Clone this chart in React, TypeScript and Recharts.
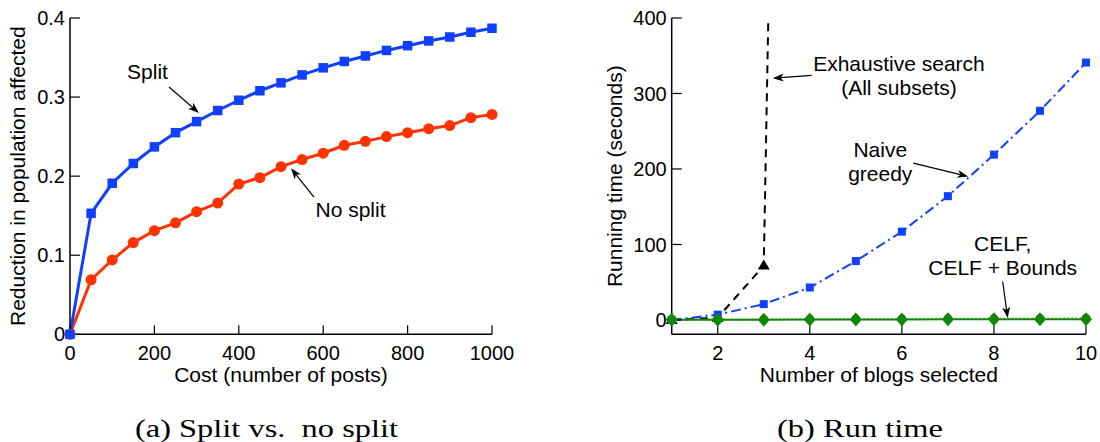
import React from 'react';
import { LineChart, Line, XAxis, YAxis, ReferenceLine } from 'recharts';

// ---------- (a) Split vs. no split ----------
const costs = [0, 50, 100, 150, 200, 250, 300, 350, 400, 450, 500, 550, 600, 650, 700, 750, 800, 850, 900, 950, 1000];
const splitReduction = [0, 0.153, 0.191, 0.216, 0.237, 0.255, 0.269, 0.283, 0.296, 0.308, 0.318, 0.328, 0.337, 0.345, 0.352, 0.359, 0.365, 0.371, 0.376, 0.382, 0.387];
const noSplitReduction = [0, 0.069, 0.094, 0.116, 0.131, 0.141, 0.155, 0.166, 0.19, 0.198, 0.212, 0.221, 0.229, 0.239, 0.244, 0.25, 0.255, 0.26, 0.264, 0.274, 0.278];
const costTicks = [0, 200, 400, 600, 800, 1000];
const reductionTicks = [0, 0.1, 0.2, 0.3, 0.4];

// ---------- (b) Run time ----------
const blogsSelected = [1, 2, 3, 4, 5, 6, 7, 8, 9, 10];
const exhaustiveTime = [0, 3, 72, 3400, null, null, null, null, null, null];
const naiveGreedyTime = [0, 7, 21, 43, 78, 117, 164, 219, 277, 341];
const celfTime = [0.3, 0.6, 0.8, 1.0, 1.2, 1.4, 1.6, 1.8, 2.0, 2.2];
const celfBoundsTime = [0.2, 0.3, 0.4, 0.5, 0.6, 0.7, 0.8, 0.9, 1.0, 1.1];
const blogTicks = [2, 4, 6, 8, 10];
const timeTicks = [0, 100, 200, 300, 400];

const leftData = costs.map((c, i) => ({ cost: c, split: splitReduction[i], noSplit: noSplitReduction[i] }));
const rightData = blogsSelected.map((b, i) => ({
  blogs: b,
  exhaustive: exhaustiveTime[i],
  naive: naiveGreedyTime[i],
  celf: celfTime[i],
  celfBounds: celfBoundsTime[i],
}));

const FONT = '"Liberation Sans", Arial, Helvetica, sans-serif';
const SERIF = '"Liberation Serif", "Times New Roman", serif';
const BLUE = '#1040ff';
const RED = '#ff3300';
const GREEN = '#0a8a0a';

const tickStyle = { fontSize: 20, fill: '#000', fontFamily: FONT };
const axisLineStyle = { stroke: '#000', strokeWidth: 1.5 };
const tickLineStyle = { stroke: '#000', strokeWidth: 1.2 };

const valid = (p: any) => p && typeof p.cx === 'number' && typeof p.cy === 'number' && !isNaN(p.cx) && !isNaN(p.cy) && p.value != null;

const squareDot = (size: number, color: string) => (p: any) => {
  if (!valid(p)) return <g key={`s${p.index}`} />;
  return <rect key={`s${p.index}`} x={p.cx - size / 2} y={p.cy - size / 2} width={size} height={size} fill={color} />;
};
const triangleDot = (p: any) => {
  if (!valid(p)) return <g key={`t${p.index}`} />;
  const w = 6, h = 10;
  return <polygon key={`t${p.index}`} points={`${p.cx},${p.cy - h * 0.6} ${p.cx + w},${p.cy + h * 0.4} ${p.cx - w},${p.cy + h * 0.4}`} fill="#000" />;
};
const diamondDot = (p: any) => {
  if (!valid(p)) return <g key={`d${p.index}`} />;
  const w = 6, h = 7;
  return <polygon key={`d${p.index}`} points={`${p.cx},${p.cy - h} ${p.cx + w},${p.cy} ${p.cx},${p.cy + h} ${p.cx - w},${p.cy}`} fill={GREEN} />;
};
const circleDot = (r: number, color: string) => (p: any) => {
  if (!valid(p)) return <g key={`c${p.index}`} />;
  return <circle key={`c${p.index}`} cx={p.cx} cy={p.cy} r={r} fill={color} />;
};

const arrowShape = (props: any) => {
  const { x1, y1, x2, y2 } = props;
  const dx = x2 - x1;
  const dy = y2 - y1;
  const len = Math.hypot(dx, dy) || 1;
  const ux = dx / len;
  const uy = dy / len;
  const px = -uy;
  const py = ux;
  const L = 11, W = 4, N = 8;
  const bx = x2 - ux * L, by = y2 - uy * L;
  const nx = x2 - ux * N, ny = y2 - uy * N;
  const pts = `${x2},${y2} ${bx + px * W},${by + py * W} ${nx},${ny} ${bx - px * W},${by - py * W}`;
  return (
    <g>
      <line x1={x1} y1={y1} x2={nx} y2={ny} stroke="#000" strokeWidth={1.2} />
      <polygon points={pts} fill="#000" />
    </g>
  );
};

const textShape = (lines: string[]) => (props: any) => (
  <text x={props.x1} y={props.y1} textAnchor="middle" fontFamily={FONT} fontSize={21} fill="#000">
    {lines.map((l, i) => (
      <tspan key={i} x={props.x1} dy={i === 0 ? 0 : 24}>{l}</tspan>
    ))}
  </text>
);

const blank = () => '';

function LeftChart() {
  return (
    <LineChart width={540} height={400} data={leftData} margin={{ top: 18, right: 48, bottom: 35.7, left: 0 }}>
      <XAxis dataKey="cost" type="number" domain={[0, 1000]} ticks={costTicks} interval={0} height={30}
        tickSize={-9} tickMargin={20} tick={tickStyle} axisLine={axisLineStyle} tickLine={tickLineStyle} />
      <XAxis xAxisId="top" orientation="top" type="number" domain={[0, 1000]} ticks={costTicks} interval={0} height={0}
        allowDataOverflow tickSize={-9} tickFormatter={blank} axisLine={axisLineStyle} tickLine={tickLineStyle} />
      <YAxis type="number" domain={[0, 0.4]} ticks={reductionTicks} interval={0} width={70}
        tickSize={-10} tickMargin={15} tick={tickStyle} axisLine={axisLineStyle} tickLine={tickLineStyle} />
      <YAxis yAxisId="right" orientation="right" type="number" domain={[0, 0.4]} ticks={reductionTicks} interval={0} width={0}
        allowDataOverflow tickSize={-10} tickFormatter={blank} axisLine={axisLineStyle} tickLine={tickLineStyle} />
      <Line dataKey="noSplit" stroke={RED} strokeWidth={3} dot={circleDot(5.5, RED)} activeDot={false} isAnimationActive={false} />
      <Line dataKey="split" stroke={BLUE} strokeWidth={3} dot={squareDot(9.5, BLUE)} activeDot={false} isAnimationActive={false} />
      <ReferenceLine segment={[{ x: 183.6, y: 0.3229 }, { x: 183.6, y: 0.3229 }]} shape={textShape(['Split'])} />
      <ReferenceLine segment={[{ x: 234.6, y: 0.3127 }, { x: 305.7, y: 0.2798 }]} shape={arrowShape} />
      <ReferenceLine segment={[{ x: 664.7, y: 0.1483 }, { x: 664.7, y: 0.1483 }]} shape={textShape(['No split'])} />
      <ReferenceLine segment={[{ x: 578, y: 0.1736 }, { x: 523.7, y: 0.2099 }]} shape={arrowShape} />
    </LineChart>
  );
}

function RightChart() {
  return (
    <LineChart width={550} height={400} data={rightData} margin={{ top: 18, right: 14, bottom: 35.7, left: 0 }}>
      <XAxis dataKey="blogs" type="number" domain={[1, 10]} ticks={blogTicks} interval={0} height={30}
        tickSize={-9} tickMargin={20} tick={tickStyle} axisLine={axisLineStyle} tickLine={tickLineStyle} />
      <XAxis xAxisId="top" orientation="top" type="number" domain={[1, 10]} ticks={blogTicks} interval={0} height={0}
        allowDataOverflow tickSize={-9} tickFormatter={blank} axisLine={axisLineStyle} tickLine={tickLineStyle} />
      <YAxis type="number" domain={[-19, 400]} allowDataOverflow ticks={timeTicks} interval={0} width={121.7}
        tickSize={-10} tickMargin={15} tick={tickStyle} axisLine={axisLineStyle} tickLine={tickLineStyle} />
      <YAxis yAxisId="right" orientation="right" type="number" domain={[-19, 400]} ticks={timeTicks} interval={0} width={0}
        allowDataOverflow tickSize={-10} tickFormatter={blank} axisLine={axisLineStyle} tickLine={tickLineStyle} />
      <Line dataKey="exhaustive" stroke="#000" strokeWidth={2} strokeDasharray="8 6" dot={triangleDot} activeDot={false} isAnimationActive={false} />
      <Line dataKey="naive" stroke={BLUE} strokeWidth={2} strokeDasharray="10 4 2 4" dot={squareDot(8, BLUE)} activeDot={false} isAnimationActive={false} />
      <Line dataKey="celf" stroke={RED} strokeWidth={2} strokeDasharray="1 3" dot={circleDot(4.5, RED)} activeDot={false} isAnimationActive={false} />
      <Line dataKey="celfBounds" stroke={GREEN} strokeWidth={2} dot={diamondDot} activeDot={false} isAnimationActive={false} />
      <ReferenceLine segment={[{ x: 5.937, y: 329.8 }, { x: 5.937, y: 329.8 }]} shape={textShape(['Exhaustive search', '(All subsets)'])} />
      <ReferenceLine segment={[{ x: 4.04, y: 324 }, { x: 3.194, y: 320.1 }]} shape={arrowShape} />
      <ReferenceLine segment={[{ x: 5.531, y: 215.6 }, { x: 5.531, y: 215.6 }]} shape={textShape(['Naive', 'greedy'])} />
      <ReferenceLine segment={[{ x: 6.248, y: 207.7 }, { x: 7.442, y: 190 }]} shape={arrowShape} />
      <ReferenceLine segment={[{ x: 8.19, y: 90.7 }, { x: 8.19, y: 90.7 }]} shape={textShape(['CELF,', 'CELF + Bounds'])} />
      <ReferenceLine segment={[{ x: 8.19, y: 51 }, { x: 8.298, y: 2.6 }]} shape={arrowShape} />
    </LineChart>
  );
}

export default function App() {
  return (
    <div style={{ position: 'absolute', left: 0, top: 0, width: 1100, height: 442, background: '#fff', overflow: 'hidden' }}>
      <div style={{ position: 'absolute', left: 0, top: 0 }}>
        <LeftChart />
      </div>
      <div style={{ position: 'absolute', left: 550, top: 0 }}>
        <RightChart />
      </div>
      <svg width={1100} height={442} style={{ position: 'absolute', left: 0, top: 0, pointerEvents: 'none' }}>
        <text x={281} y={381.7} textAnchor="middle" fontFamily={FONT} fontSize={21} fill="#000">Cost (number of posts)</text>
        <text x={878.9} y={381.7} textAnchor="middle" fontFamily={FONT} fontSize={21} fill="#000">Number of blogs selected</text>
        <text x={25} y={176.2} transform="rotate(-90 25 176.2)" textAnchor="middle" fontFamily={FONT} fontSize={21} fill="#000">Reduction in population affected</text>
        <text x={621.7} y={176.2} transform="rotate(-90 621.7 176.2)" textAnchor="middle" fontFamily={FONT} fontSize={21} fill="#000">Running time (seconds)</text>
        <text x={266.5} y={437.3} textAnchor="middle" fontFamily={SERIF} fontSize={26} fill="#000" textLength={263} lengthAdjust="spacingAndGlyphs" xmlSpace="preserve">(a) Split vs.  no split</text>
        <text x={860} y={437.3} textAnchor="middle" fontFamily={SERIF} fontSize={26} fill="#000" textLength={166} lengthAdjust="spacingAndGlyphs">(b) Run time</text>
      </svg>
    </div>
  );
}
